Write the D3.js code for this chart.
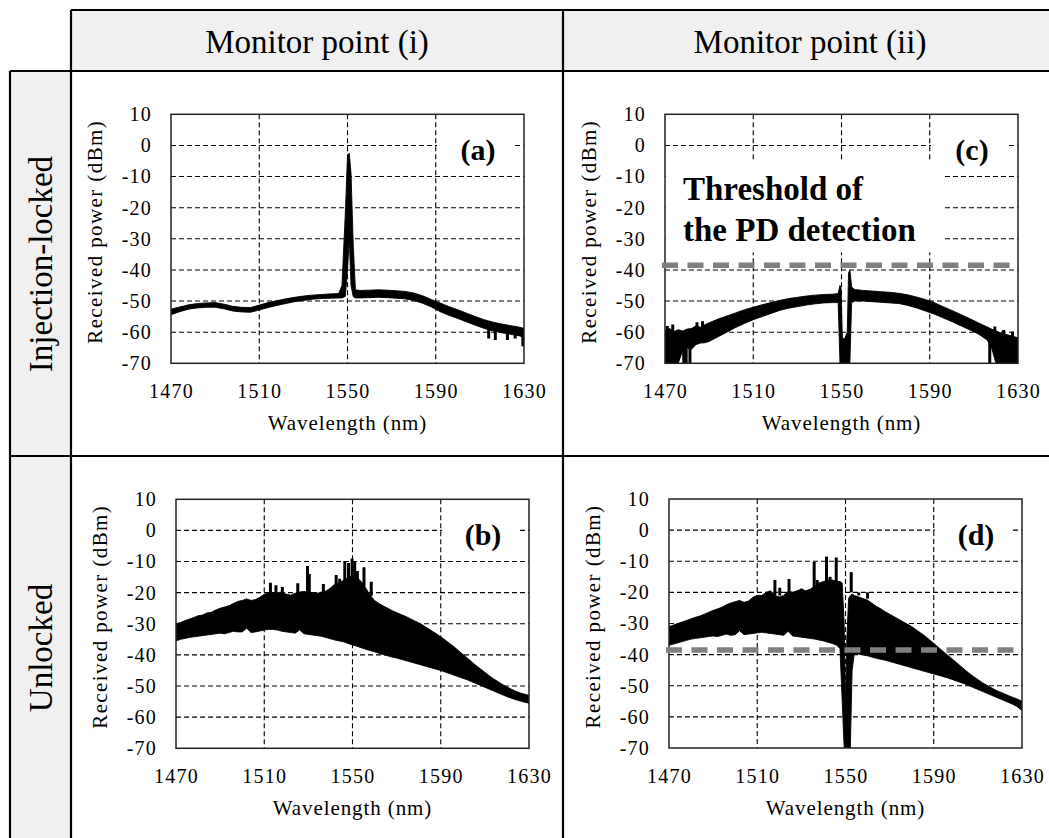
<!DOCTYPE html>
<html>
<head>
<meta charset="utf-8">
<script src="https://d3js.org/d3.v7.min.js"></script>
<style>
  body { margin: 0; background: #fff; }
  svg text { font-family: "Liberation Serif", Tinos, "Times New Roman", "DejaVu Serif", serif !important; fill: #000; }
  .grid line { stroke: #000; stroke-width: 1.1; stroke-dasharray: 5,3; }
  .tick text { font-size: 20px; letter-spacing: 1.2px; }
  .axtitle { font-size: 21px; }
  .frame { fill: none; stroke: #222; stroke-width: 1.5; }
  .band { fill: #000; stroke: #000; stroke-width: 0.9; stroke-linejoin: round; }
  .spike { stroke: #000; stroke-width: 3; }
  .thr { stroke: #808080; stroke-width: 5.5; stroke-dasharray: 16,9.5; fill: none; }
  .head { fill: #f0f0f0; }
  .rule { stroke: #000; stroke-width: 2.2; }
  .big { font-size: 33px; }
  .plabel { font-size: 30px; font-weight: bold; }
  .note { font-size: 33px; font-weight: bold; }
</style>
</head>
<body>
<svg id="fig" width="1049" height="838"></svg>
<script>
// axes
const xTicks = [1470, 1510, 1550, 1590, 1630];
const yTicks = [10, 0, -10, -20, -30, -40, -50, -60, -70];
const colHeads = ["Monitor point (i)", "Monitor point (ii)"];
const rowHeads = ["Injection-locked", "Unlocked"];
const threshold = -38.5;   // PD detection threshold, dBm

// (a) injection-locked, monitor point (i)
const wlA = [1470,1474,1478,1482,1486,1490,1494,1498,1502,1506,1510,1514,1518,1522,1526,1530,1534,1538,1542,1546,
  1547.5,1549,1550,1550.8,1551.6,1552.6,1553.6,1556,1560,1564,1568,1572,1576,1580,1584,1588,1592,1596,
  1600,1604,1608,1612,1616,1620,1624,1628,1630];
const hiA = [-52.6,-51.9,-51.2,-50.8,-50.6,-50.5,-51.0,-51.7,-52.0,-52.1,-51.3,-50.5,-49.9,-49.3,-48.8,-48.4,-48.1,-47.9,-47.7,-47.6,
  -45,-22,-3.5,-2.5,-9,-32,-46.4,-46.6,-46.5,-46.4,-46.5,-46.7,-46.9,-47.4,-48.3,-49.5,-50.6,-51.8,
  -52.8,-53.9,-55.0,-56.0,-56.8,-57.4,-57.9,-58.4,-58.8];
const loA = [-54.4,-53.4,-52.6,-52.2,-52.0,-52.0,-52.5,-53.2,-53.5,-53.6,-52.9,-52.1,-51.4,-50.8,-50.2,-49.8,-49.4,-49.2,-49.1,-49.0,
  -49,-48.5,-40,-30,-45,-48.6,-49.0,-49.0,-48.9,-48.8,-48.9,-49.1,-49.3,-49.8,-50.7,-51.9,-53.4,-54.6,
  -55.6,-56.7,-57.8,-58.8,-59.6,-60.2,-60.7,-61.2,-61.6];
const spikesA = [[1614,-59,-62],[1617,-59.5,-62.5],[1622.5,-60,-62.5],[1626,-60,-62],[1629.5,-60.5,-64.5]];

// (c) injection-locked, monitor point (ii)
const wlC = [1470,1472,1474,1476,1478,1480,1482,1484,1486,1488,1490,1494,1498,1502,1506,1510,1514,1518,1522,1526,1530,1534,1538,1542,1546,
  1548.5,1549.3,1549.8,1550.4,1551.5,1552.6,1553.2,1553.8,1554.6,
  1556,1560,1564,1568,1572,1576,1580,1584,1588,1592,1596,1600,1604,1608,1612,1616,1618,1620,1622,1624,1626,1628,1630];
const hiC = [-59.5,-58.8,-59.8,-59.2,-59.6,-59.0,-58.8,-58.0,-58.4,-57.6,-57.0,-55.8,-54.8,-53.8,-52.8,-52.0,-51.2,-50.5,-49.8,-49.2,-48.8,-48.4,-48.1,-47.9,-47.8,
  -47.6,-45,-46,-62,-62,-60,-41,-40,-45.5,
  -46.3,-46.6,-46.8,-47.0,-47.2,-47.5,-48.0,-48.7,-49.5,-50.5,-51.8,-53.0,-54.3,-55.6,-57.0,-58.3,-59.0,-59.6,-60.2,-60.6,-61.0,-61.4,-61.8];
const loC = [-70,-70,-70,-70,-66,-65,-65.5,-64,-63.5,-63.4,-63.0,-61.5,-60.0,-58.5,-57.2,-56.0,-55.0,-54.0,-53.0,-52.3,-51.8,-51.3,-50.9,-50.6,-50.5,
  -50.5,-70,-70,-70,-70,-70,-70,-70,-50.5,
  -50.0,-50.0,-50.2,-50.4,-50.6,-50.8,-51.4,-52.2,-53.2,-54.2,-55.4,-56.6,-57.9,-59.2,-60.6,-62.5,-65,-70,-70,-70,-70,-70,-70];
const spikesC = [[1471,-58,-61],[1473.5,-57.5,-61],[1478.5,-62,-70],[1479.6,-62,-70],[1481.3,-63,-70],[1484.5,-56.8,-59],
  [1487,-56.5,-59],[1617.2,-60,-70],[1619.5,-58.2,-63],[1623.5,-59.3,-63],[1627.5,-59.8,-64]];

// (b) unlocked, monitor point (i) -- sampled every 2 nm from 1470 to 1630
const wlB = d3.range(1470, 1631, 2);
const hiB = [-30,-29.6,-29,-28.5,-28,-27.4,-27.2,-26.5,-26.3,-25.6,-25,-24.6,-24.2,-23.5,-22.8,-22.5,-22,-22.5,-22.2,-21.5,
  -20.5,-20,-20.3,-20,-19.8,-20.5,-20.8,-20.2,-19.8,-19.6,-19.8,-20,-20.2,-19.8,-19.5,-18.5,-17.2,-16.8,-16,-15,
  -14.5,-15,-16.5,-18.5,-20.8,-22.5,-23.5,-24.3,-25,-25.8,-26.4,-27,-27.6,-28.3,-29,-29.7,-30.5,-31.4,-32.3,-33.2,
  -34.2,-35.2,-36.3,-37.4,-38.6,-39.8,-41,-42.2,-43.4,-44.5,-45.6,-46.7,-47.7,-48.6,-49.5,-50.3,-51,-51.7,-52.2,-52.6,-53];
const loB = [-35.5,-35,-34.7,-34.4,-34.2,-34,-33.8,-33.6,-33.4,-33.2,-33,-33.2,-32.8,-32.4,-32.6,-32.6,-31.4,-32.8,-32.6,-32.3,
  -32,-31.8,-31.8,-32,-32.4,-32.6,-32.8,-33,-32,-33.2,-33.4,-33.6,-33.8,-34,-34.4,-34.8,-35.2,-35.5,-35.8,-36.3,
  -36.8,-37.2,-37.7,-38.2,-38.6,-39,-39.5,-39.9,-40.3,-40.7,-41,-41.4,-41.8,-42.2,-42.6,-43,-43.4,-43.8,-44.2,-44.6,
  -45,-45.5,-46,-46.5,-47,-47.5,-48,-48.6,-49.2,-49.8,-50.4,-51,-51.6,-52.2,-52.8,-53.4,-53.9,-54.4,-54.8,-55.2,-55.5];
const spikesB = [[1512.8,-21,-16.8],[1515.3,-21,-17.6],[1518.2,-21,-18.2],[1525.2,-21,-17],[1529.6,-21,-11.4],[1530.4,-21,-14],
  [1536.8,-21,-17.2],[1542.6,-19,-14.3],[1544.2,-19,-15.5],[1546.5,-17,-9.8],[1548.2,-17,-10.5],[1549.8,-17,-9],
  [1551.0,-17,-10],[1552.2,-17,-13],[1555.2,-18,-11.8],[1558.5,-21,-16.5]];

// (d) unlocked, monitor point (ii)
const wlD = d3.range(1470, 1547, 2)
  .concat([1547.5,1548.5,1549.4,1550.1,1550.6,1551.4,1552.2,1553,1554])
  .concat(d3.range(1556, 1631, 2));
const hiD = [-31,-30.5,-30,-29.5,-29,-28.5,-28,-27.6,-27,-26.4,-25.8,-25.3,-24.8,-24,-23.4,-23,-22.6,-23.2,-22.8,-21.6,
  -21,-21,-20,-19.5,-21,-21.5,-21,-19.5,-20,-19.5,-19,-19.5,-19,-18,-17,-16.5,-16,-16,-16.5,
  -16.5,-17,-30,-57,-35,-22,-21,-20.5,-21,
  -21.5,-22,-22.5,-23.5,-24.5,-25.3,-26.2,-27,-27.8,-28.6,-29.4,-30.2,-31,-32,-33,-34,-35.2,-36.4,-37.6,
  -38.8,-40,-41.2,-42.4,-43.6,-44.8,-46,-47,-48,-49,-49.8,-50.6,-51.4,-52,-52.6,-53.2,-53.8,-54.3,-55];
const loD = [-37,-36.6,-36.2,-35.8,-35.4,-35,-34.8,-34.6,-34.4,-34.2,-34,-34.2,-33.8,-33.4,-33.8,-33.6,-32.3,-33.6,-33.4,-33.2,
  -33,-32.8,-33,-33.2,-33.4,-33.6,-33.8,-32.5,-34,-34.2,-34.4,-34.6,-34.8,-35,-35.3,-35.6,-36,-36.4,-37,
  -38,-55,-70,-70,-70,-70,-70,-45,-39.6,
  -39.8,-40.1,-40.4,-40.8,-41.2,-41.5,-41.8,-42.2,-42.6,-43,-43.4,-43.8,-44.2,-44.6,-45,-45.4,-45.8,-46.2,-46.6,
  -47,-47.4,-47.9,-48.4,-48.9,-49.4,-50,-50.6,-51.2,-51.8,-52.4,-53,-53.6,-54.2,-54.8,-55.4,-56,-56.8,-58];
const spikesD = [[1518,-21,-16],[1520.2,-21,-18.5],[1524.4,-20,-15.7],[1530,-20,-18.8],[1535.8,-19,-10.2],[1537.2,-19,-16],
  [1541.4,-17,-8.5],[1543,-17,-15],[1545.8,-17,-8.8],[1552.6,-20,-13.5],[1556,-21,-20],[1560,-22,-20]];

const svg = d3.select("#fig");
svg.append("rect").attr("width", 1049).attr("height", 838).attr("fill", "#fff");

// ---- table frame ----
const T = { left: 10, colX: 71, mid: 563, right: 1049, top: 10, headB: 71, rowB: 456, bottom: 838 };
svg.append("rect").attr("class", "head").attr("x", T.colX).attr("y", T.top)
  .attr("width", T.right - T.colX).attr("height", T.headB - T.top);
svg.append("rect").attr("class", "head").attr("x", T.left).attr("y", T.headB)
  .attr("width", T.colX - T.left).attr("height", T.bottom - T.headB);

const rules = [
  [T.colX, T.top, T.right, T.top],
  [T.left, T.headB, T.right, T.headB],
  [T.left, T.rowB, T.right, T.rowB],
  [T.left, T.headB, T.left, T.bottom],
  [T.colX, T.top, T.colX, T.bottom],
  [T.mid, T.top, T.mid, T.bottom]
];
svg.selectAll("line.rule").data(rules).join("line").attr("class", "rule")
  .attr("x1", d => d[0]).attr("y1", d => d[1]).attr("x2", d => d[2]).attr("y2", d => d[3]);

svg.selectAll("text.colhead").data(colHeads).join("text").attr("class", "colhead big")
  .attr("x", (d, i) => i === 0 ? 317 : 810).attr("y", 53)
  .attr("text-anchor", "middle").text(d => d);

svg.selectAll("text.rowhead").data(rowHeads).join("text").attr("class", "rowhead big")
  .attr("text-anchor", "middle")
  .attr("transform", (d, i) => `translate(52,${i === 0 ? 264 : 648}) rotate(-90)`)
  .text(d => d);

// ---- panels ----
const W = 353, H = 249;
const x = d3.scaleLinear().domain([1470, 1630]).range([0, W]);
const y = d3.scaleLinear().domain([-70, 10]).range([H, 0]);

function panel(ox, oy, id, wl, hi, lo, spikes, label, opts) {
  const g = svg.append("g").attr("transform", `translate(${ox},${oy})`);

  g.append("clipPath").attr("id", "clip" + id)
    .append("rect").attr("width", W).attr("height", H);

  const grid = g.append("g").attr("class", "grid");
  grid.selectAll("line.v").data(xTicks.slice(1, -1)).join("line").attr("class", "v")
    .attr("x1", d => x(d)).attr("x2", d => x(d)).attr("y1", 0).attr("y2", H);
  grid.selectAll("line.h").data(yTicks.slice(1, -1)).join("line").attr("class", "h")
    .attr("x1", 0).attr("x2", W).attr("y1", d => y(d)).attr("y2", d => y(d));

  const pts = wl.map((w, i) => ({ w: w, hi: hi[i], lo: lo[i] }));
  const area = d3.area().x(d => x(d.w)).y0(d => y(d.lo)).y1(d => y(d.hi));
  const plot = g.append("g").attr("clip-path", `url(#clip${id})`);
  plot.append("path").datum(pts).attr("class", "band").attr("d", area);
  plot.selectAll("line.spike").data(spikes).join("line").attr("class", "spike")
    .attr("x1", d => x(d[0])).attr("x2", d => x(d[0]))
    .attr("y1", d => y(d[1])).attr("y2", d => y(d[2]));

  g.append("rect").attr("class", "frame").attr("width", W).attr("height", H);

  // axes
  const ya = g.append("g")
    .call(d3.axisLeft(y).tickValues(yTicks).tickFormat(d => String(d)).tickSize(0).tickPadding(19));
  ya.select(".domain").remove();
  const xa = g.append("g").attr("transform", `translate(0,${H})`)
    .call(d3.axisBottom(x).tickValues(xTicks).tickFormat(d => String(d)).tickSize(0).tickPadding(21));
  xa.select(".domain").remove();
  g.selectAll("g").attr("font-family", null).attr("font-size", null);

  g.append("text").attr("class", "axtitle").attr("x", W / 2).attr("y", H + 67)
    .attr("text-anchor", "middle").style("letter-spacing", "0.9px").text("Wavelength (nm)");
  g.append("text").attr("class", "axtitle").attr("text-anchor", "middle")
    .attr("transform", `translate(-69,${H / 2 - 7}) rotate(-90)`)
    .style("letter-spacing", "1.4px").text("Received power (dBm)");

  // panel label
  g.append("rect").attr("x", W - 87).attr("y", 11).attr("width", 76).attr("height", 45).attr("fill", "#fff");
  g.append("text").attr("class", "plabel").attr("x", W - 46).attr("y", 46)
    .attr("text-anchor", "middle").text(label);

  if (opts.note) {
    g.append("rect").attr("x", 1).attr("y", 46).attr("width", 276).attr("height", 92).attr("fill", "#fff");
    g.append("text").attr("class", "note").attr("x", 18).attr("y", 86).text(opts.note[0]);
    g.append("text").attr("class", "note").attr("x", 18).attr("y", 127).text(opts.note[1]);
  }
  if (opts.thr) {
    g.append("line").attr("class", "thr")
      .attr("x1", -3).attr("x2", W).attr("y1", y(threshold)).attr("y2", y(threshold));
  }
}

panel(171, 114.3, "a", wlA, hiA, loA, spikesA, "(a)", {});
panel(665, 114.3, "c", wlC, hiC, loC, spikesC, "(c)", { thr: true, note: ["Threshold of", "the PD detection"] });
panel(176, 499.3, "b", wlB, hiB, loB, spikesB, "(b)", {});
panel(669, 499, "d", wlD, hiD, loD, spikesD, "(d)", { thr: true });
</script>
</body>
</html>
